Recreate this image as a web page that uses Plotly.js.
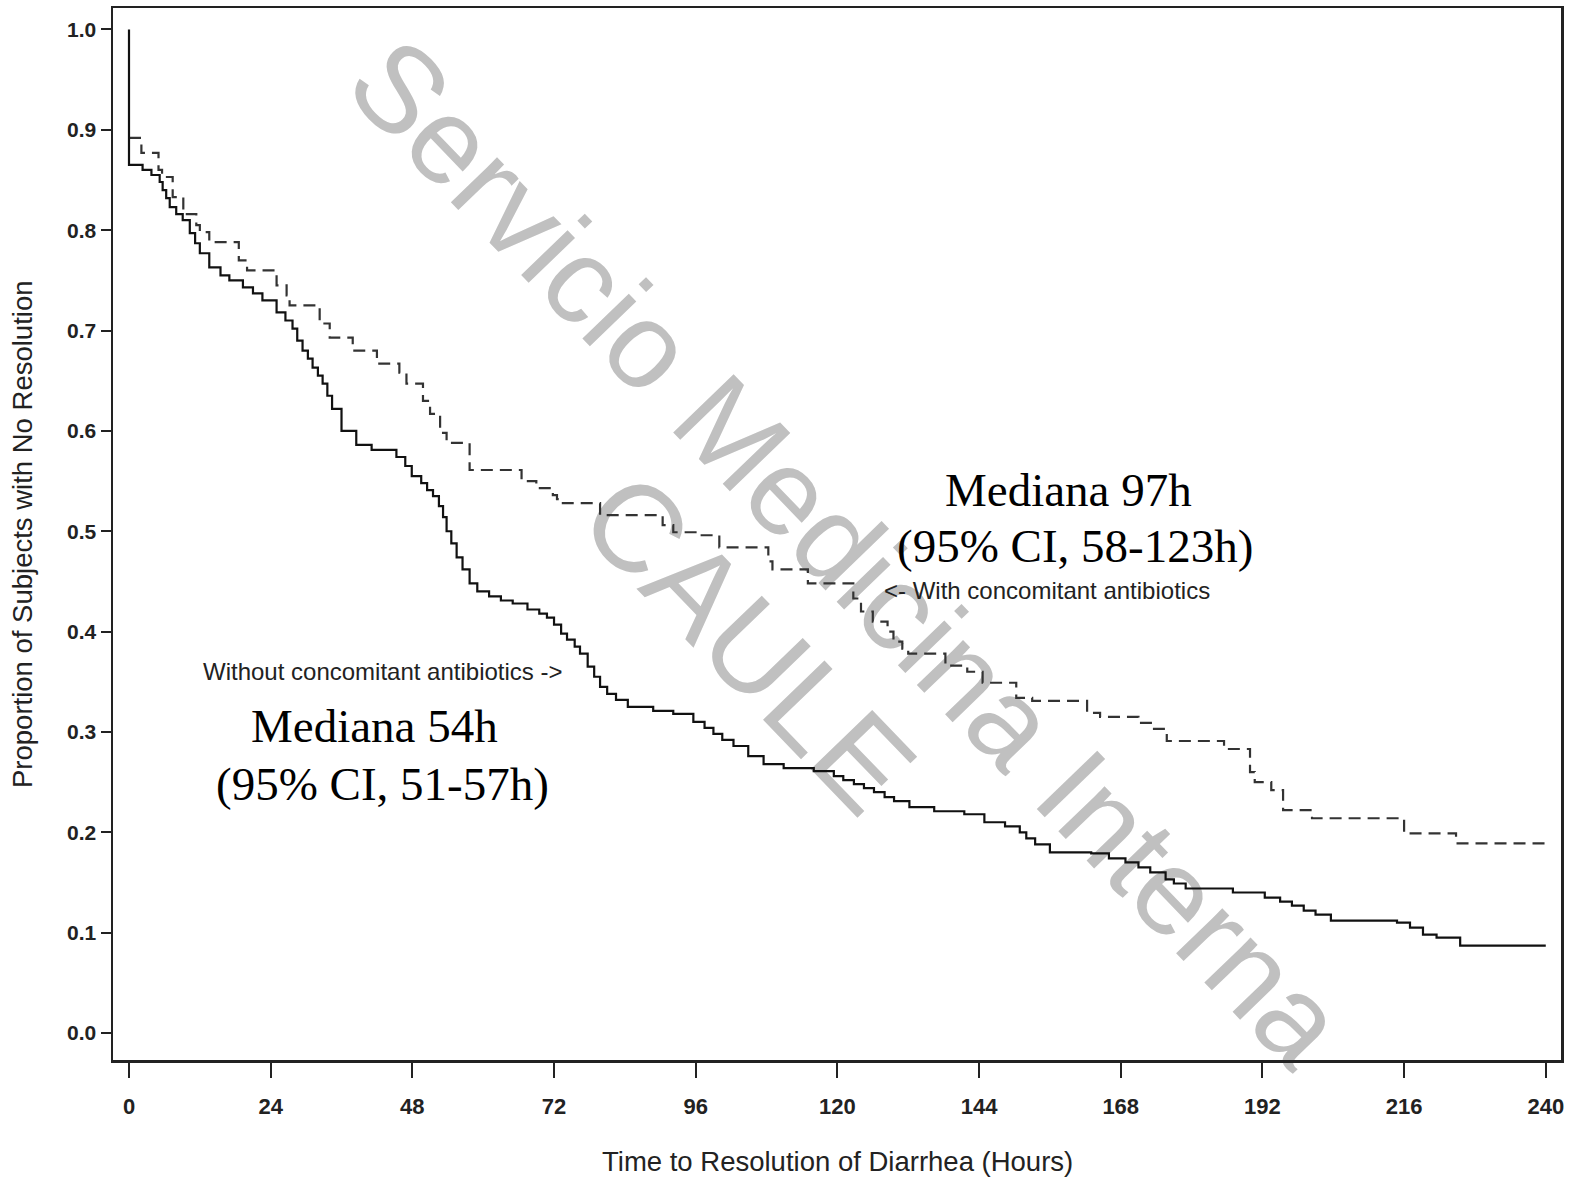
<!DOCTYPE html>
<html>
<head>
<meta charset="utf-8">
<script src="https://cdn.plot.ly/plotly-3.0.1.min.js"></script>
<style>html,body{margin:0;padding:0;background:#fff;}#chart{width:1576px;height:1178px;}</style>
</head>
<body>
<div id="chart"></div>
<script>
// Kaplan-Meier: Without concomitant antibiotics (solid)
const timeWithout = [
  0, 0, 2.3, 3.8, 5.2, 5.7, 6.3, 6.9, 8.0, 9.1,
  10.3, 11.2, 12.0, 13.6, 15.5, 17.0, 19.3, 21.0, 22.6, 25.0,
  26.5, 27.7, 28.5, 29.4, 30.3, 31.1, 32.0, 32.8, 33.6, 34.4,
  36.0, 38.5, 41.1, 45.3, 46.8, 47.9, 49.5, 50.5, 51.5, 52.5,
  53.2, 53.8, 54.6, 55.5, 56.5, 57.7, 59.0, 61.0, 63.0, 65.0,
  67.5, 69.5, 70.8, 72.0, 73.2, 74.2, 75.5, 76.4, 77.7, 78.8,
  79.8, 81.0, 82.5, 84.5, 88.8, 92.2, 95.6, 97.5, 99.0, 100.5,
  102.4, 104.9, 107.5, 110.9, 116.0, 119.4, 121.0, 122.8, 124.5, 126.2,
  128.0, 129.6, 132.2, 136.4, 141.5, 144.9, 148.4, 150.9, 152.0, 153.5,
  156.0, 163.0, 166.0, 168.8, 171.0, 173.0, 175.6, 177.0, 179.0, 187.0,
  192.4, 195.0, 197.0, 199.0, 201.0, 203.6, 214.8, 217.0, 219.2, 221.5,
  225.5, 240
];
const survWithout = [
  1.0, 0.865, 0.860, 0.855, 0.848, 0.840, 0.832, 0.823, 0.816, 0.810,
  0.797, 0.787, 0.777, 0.763, 0.755, 0.750, 0.743, 0.737, 0.730, 0.718,
  0.710, 0.702, 0.690, 0.680, 0.672, 0.663, 0.655, 0.647, 0.635, 0.622,
  0.600, 0.586, 0.581, 0.574, 0.565, 0.555, 0.548, 0.541, 0.535, 0.525,
  0.514, 0.500, 0.488, 0.474, 0.462, 0.448, 0.440, 0.435, 0.431, 0.428,
  0.422, 0.418, 0.414, 0.407, 0.398, 0.392, 0.385, 0.378, 0.365, 0.355,
  0.345, 0.338, 0.332, 0.325, 0.321, 0.318, 0.310, 0.304, 0.298, 0.292,
  0.286, 0.276, 0.268, 0.264, 0.261, 0.256, 0.252, 0.248, 0.244, 0.240,
  0.235, 0.231, 0.225, 0.221, 0.218, 0.210, 0.206, 0.200, 0.194, 0.188,
  0.180, 0.179, 0.174, 0.170, 0.165, 0.160, 0.153, 0.149, 0.144, 0.140,
  0.135, 0.131, 0.127, 0.122, 0.118, 0.112, 0.110, 0.105, 0.098, 0.095,
  0.087, 0.087
];

// Kaplan-Meier: With concomitant antibiotics (dashed)
const timeWith = [
  0, 2.1, 5.0, 5.6, 7.4, 9.2, 11.4, 12.0, 13.6, 18.6,
  20.0, 25.0, 26.7, 27.2, 32.3, 34.0, 37.9, 42.0, 45.8, 47.0,
  49.8, 51.0, 52.7, 53.8, 57.7, 66.5, 69.0, 71.8, 72.5, 73.5,
  79.8, 90.4, 92.2, 96.7, 100.0, 108.3, 109.0, 115.0, 122.7, 124.0,
  126.0, 128.5, 129.5, 131.0, 132.0, 138.3, 142.0, 144.6, 150.3, 153.0,
  162.3, 164.5, 171.0, 173.4, 175.8, 185.5, 189.9, 190.7, 193.5, 195.5,
  200.4, 216.0, 224.8, 240
];
const survWith = [
  0.892, 0.877, 0.860, 0.853, 0.833, 0.816, 0.805, 0.798, 0.788, 0.770,
  0.760, 0.745, 0.735, 0.725, 0.707, 0.693, 0.680, 0.667, 0.658, 0.647,
  0.630, 0.617, 0.598, 0.588, 0.561, 0.550, 0.543, 0.536, 0.532, 0.528,
  0.516, 0.506, 0.499, 0.496, 0.484, 0.470, 0.462, 0.448, 0.433, 0.420,
  0.410, 0.400, 0.390, 0.383, 0.378, 0.366, 0.360, 0.349, 0.334, 0.331,
  0.319, 0.315, 0.309, 0.303, 0.291, 0.283, 0.260, 0.250, 0.242, 0.222,
  0.214, 0.199, 0.189, 0.189
];

const xTicks = [0, 24, 48, 72, 96, 120, 144, 168, 192, 216, 240];
const yTicks = [0, 0.1, 0.2, 0.3, 0.4, 0.5, 0.6, 0.7, 0.8, 0.9, 1.0];
const yTickText = ["0.0", "0.1", "0.2", "0.3", "0.4", "0.5", "0.6", "0.7", "0.8", "0.9", "1.0"];

const xTitle = "Time to Resolution of Diarrhea (Hours)";
const yTitle = "Proportion of Subjects with No Resolution";
const labelWithout = "Without concomitant antibiotics ->";
const labelWith = "<- With concomitant antibiotics";
const medianWithout = ["Mediana 54h", "(95% CI, 51-57h)"];
const medianWith = ["Mediana 97h", "(95% CI, 58-123h)"];
const watermark = ["Servicio Medicina Interna", "CAULE"];

const sans = "Liberation Sans, Arial, Helvetica, sans-serif";
const serif = "Liberation Serif, Times New Roman, serif";

const traces = [
  {
    x: timeWith, y: survWith, mode: "lines", type: "scatter",
    line: {shape: "hv", color: "#333", width: 2.2, dash: "12px,7px"},
    hoverinfo: "skip", showlegend: false
  },
  {
    x: timeWithout, y: survWithout, mode: "lines", type: "scatter",
    line: {shape: "hv", color: "#111", width: 2.2},
    hoverinfo: "skip", showlegend: false
  }
];

// watermark drawn beneath the curves (paper-referenced, not clipped)
function wmShape(cx, cy, text, size) {
  return {
    type: "rect", xref: "paper", yref: "paper", layer: "below",
    x0: cx - 0.0005, x1: cx + 0.0005, y0: cy - 0.0005, y1: cy + 0.0005,
    line: {width: 0}, fillcolor: "rgba(0,0,0,0)",
    label: {text: text, textangle: 46, textposition: "middle center",
            font: {family: sans, size: size, color: "#c0c0c0"}}
  };
}

const layout = {
  width: 1576, height: 1178,
  margin: {l: 113, r: 15, t: 8, b: 118},
  paper_bgcolor: "#fff", plot_bgcolor: "rgba(0,0,0,0)",
  showlegend: false,
  xaxis: {
    range: [-2.71, 242.58], tickvals: xTicks, ticks: "outside", ticklen: 15, tickwidth: 2,
    tickcolor: "#222", showline: true, linewidth: 2.5, linecolor: "#222", mirror: true,
    showgrid: false, zeroline: false, ticklabelstandoff: 10,
    tickfont: {family: sans, size: 22, color: "#222", weight: "bold"}
  },
  yaxis: {
    range: [-0.0269, 1.0214], tickvals: yTicks, ticktext: yTickText, ticks: "outside",
    ticklen: 10, tickwidth: 2, tickcolor: "#222", showline: true, linewidth: 2.5,
    linecolor: "#222", mirror: true, showgrid: false, zeroline: false,
    tickfont: {family: sans, size: 21, color: "#222", weight: "bold"}
  },
  shapes: [wmShape(0.513, 0.4905, watermark[0], 122), wmShape(0.4449, 0.4044, watermark[1], 124)],
  annotations: [
    {xref: "paper", yref: "paper", x: 0.5, y: 0, yanchor: "middle", yshift: -101,
     text: xTitle, showarrow: false, font: {family: sans, size: 27.5, color: "#222"}},
    {xref: "paper", yref: "paper", x: 0, y: 0.5, xanchor: "center", xshift: -91, textangle: -90,
     text: yTitle, showarrow: false, font: {family: sans, size: 27.5, color: "#222"}},
    {xref: "x", yref: "y", x: 159.2, y: 0.541, text: medianWith[0], showarrow: false,
     font: {family: serif, size: 47, color: "#000"}},
    {xref: "x", yref: "y", x: 160.2, y: 0.485, text: medianWith[1], showarrow: false,
     font: {family: serif, size: 47, color: "#000"}},
    {xref: "x", yref: "y", x: 127.5, y: 0.441, xanchor: "left", text: labelWith, showarrow: false,
     font: {family: sans, size: 24, color: "#222"}},
    {xref: "x", yref: "y", x: 12.2, y: 0.360, xanchor: "left", text: labelWithout, showarrow: false,
     font: {family: sans, size: 24, color: "#222"}},
    {xref: "x", yref: "y", x: 41.6, y: 0.306, text: medianWithout[0], showarrow: false,
     font: {family: serif, size: 47, color: "#000"}},
    {xref: "x", yref: "y", x: 43.0, y: 0.248, text: medianWithout[1], showarrow: false,
     font: {family: serif, size: 47, color: "#000"}}
  ]
};

Plotly.newPlot("chart", traces, layout, {staticPlot: true, displayModeBar: false});
</script>
</body>
</html>
